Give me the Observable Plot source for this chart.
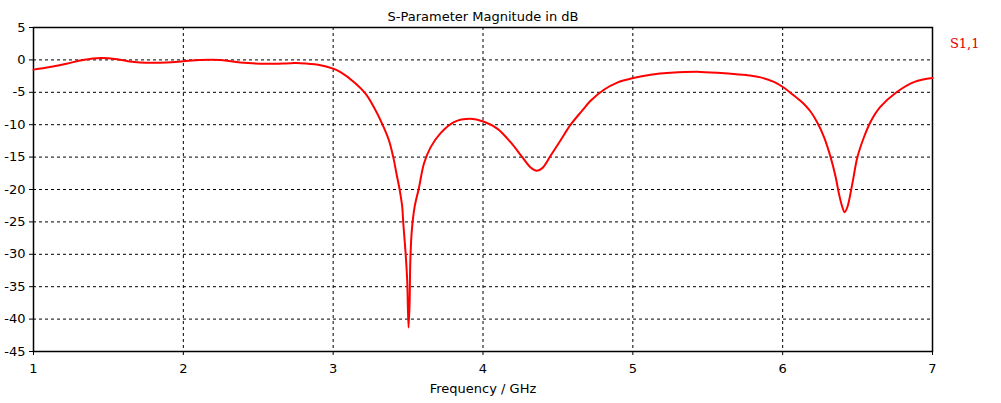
<!DOCTYPE html>
<html><head><meta charset="utf-8">
<script src="https://cdn.jsdelivr.net/npm/d3@7"></script>
<script src="https://cdn.jsdelivr.net/npm/@observablehq/plot@0.6"></script>
<style>body{margin:0;background:#fff}#c{position:relative;width:1001px;height:403px}</style>
</head><body><div id="c"></div>
<script>
const freq = [1.0,1.11,1.22,1.33,1.45,1.56,1.63,1.71,1.89,2.0,2.11,2.25,2.38,2.56,2.72,2.78,2.9,3.0,3.049,3.138,3.216,3.272,3.328,3.372,3.401,3.423,3.445,3.461,3.468,3.483,3.494,3.503,3.51,3.515,3.525,3.545,3.572,3.606,3.65,3.717,3.806,3.917,4.002,4.095,4.184,4.262,4.318,4.358,4.396,4.451,4.518,4.585,4.663,4.718,4.807,4.896,5.003,5.119,5.252,5.453,5.653,5.775,5.853,5.942,6.009,6.075,6.142,6.187,6.232,6.276,6.32,6.354,6.376,6.398,6.413,6.432,6.465,6.499,6.543,6.588,6.65,6.76,6.88,7.0];
const s11 = [-1.5,-1.1,-0.6,0.0,0.3,0.1,-0.2,-0.4,-0.4,-0.2,0.0,0.0,-0.4,-0.6,-0.5,-0.5,-0.75,-1.35,-1.9,-3.4,-5.2,-7.3,-9.9,-12.4,-15.0,-17.6,-20.2,-22.7,-25.2,-29.7,-34.0,-41.3,-37.6,-31.0,-26.3,-22.5,-19.8,-16.0,-13.5,-11.3,-9.6,-9.1,-9.5,-10.6,-12.7,-15.0,-16.6,-17.1,-16.7,-14.8,-12.4,-10.0,-7.8,-6.3,-4.6,-3.5,-2.8,-2.3,-2.0,-1.85,-2.15,-2.4,-2.7,-3.4,-4.3,-5.5,-6.8,-8.0,-9.7,-11.9,-15.0,-18.1,-20.7,-22.7,-23.5,-22.7,-19.1,-15.0,-11.9,-9.5,-7.3,-5.0,-3.4,-2.8];
const xTicks = [1,2,3,4,5,6,7];
const yTicks = [5,0,-5,-10,-15,-20,-25,-30,-35,-40,-45];
const title = "S-Parameter Magnitude in dB";
const xLabel = "Frequency / GHz";
const seriesName = "S1,1";

const data = freq.map((f,i)=>({f, v:s11[i]}));
const font = "'DejaVu Sans', sans-serif";
const chart = Plot.plot({
  width: 1001, height: 403,
  marginTop: 27, marginLeft: 33, marginRight: 69, marginBottom: 52,
  style: {fontFamily: font, fontSize: "13px", color: "#000", background: "#fff"},
  x: {domain:[1,7], ticks: xTicks, tickFormat: d=>String(d), tickSize: 4, tickPadding: 8, label: null},
  y: {domain:[-45,5], ticks: yTicks, tickFormat: d=>String(d), tickSize: 4, tickPadding: 4, label: null},
  marks: [
    Plot.gridX(xTicks.filter(d=>d>1&&d<7), {stroke:"#000", strokeOpacity:1, strokeDasharray:"3,3"}),
    Plot.gridY(yTicks.filter(d=>d>-45&&d<5), {stroke:"#000", strokeOpacity:1, strokeDasharray:"3,3"}),
    Plot.frame({stroke:"#000", strokeWidth:1.5}),
    Plot.line(data, {x:"f", y:"v", stroke:"#ff0000", strokeWidth:2, curve:"catmull-rom"}),
    Plot.text([title], {frameAnchor:"top", dy:-16, text:d=>d, fontSize:13, fill:"#000"}),
    Plot.text([xLabel], {frameAnchor:"bottom", dy:41, text:d=>d, fontSize:13, fill:"#000"}),
    Plot.text([seriesName], {frameAnchor:"top-right", dx:47, dy:11, text:d=>d, fontSize:13, fill:"#e00000", fontFamily:"'DejaVu Serif', serif"})
  ]
});
document.getElementById("c").appendChild(chart);
</script></body></html>
